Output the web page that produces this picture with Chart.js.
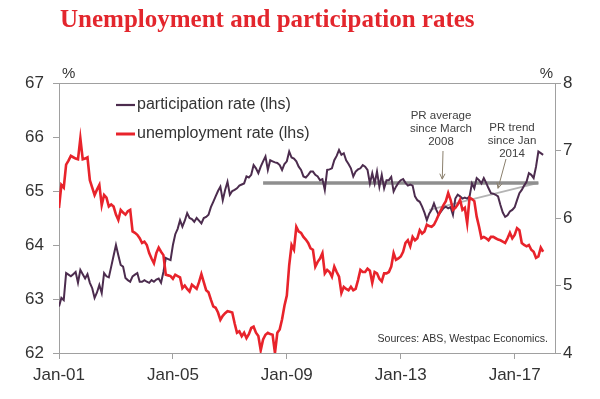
<!DOCTYPE html>
<html>
<head>
<meta charset="utf-8">
<title>Unemployment and participation rates</title>
<script src="https://cdn.jsdelivr.net/npm/chart.js@4/dist/chart.umd.min.js"></script>
<style>
  html, body { margin: 0; padding: 0; background: #fff; }
  #wrap { position: relative; width: 600px; height: 399px; }
</style>
</head>
<body>
<div id="wrap">
  <canvas id="ratesChart" width="600" height="399"></canvas>
</div>
<script>
// Monthly data, Jan 2001 .. Jan 2018 (index 0 = Jan 2001)
const participation = [
  62.86, 63.02, 62.98, 63.48, 63.45, 63.42, 63.46, 63.5, 63.3, 63.54,
  63.46, 63.38, 63.46, 63.3, 63.2, 63.02, 63.12, 63.26, 63.11, 63.48,
  63.42, 63.4, 63.6, 63.8, 64.0, 63.81, 63.63, 63.6, 63.39, 63.35,
  63.32, 63.42, 63.45, 63.48, 63.32, 63.32, 63.35, 63.32, 63.3, 63.35,
  63.32, 63.36, 63.38, 63.3, 63.5, 63.76, 63.74, 63.72, 64.0, 64.2,
  64.3, 64.46, 64.34, 64.45, 64.59, 64.5, 64.48, 64.43, 64.5, 64.45,
  64.4, 64.5, 64.52, 64.56, 64.7, 64.8, 64.9, 65.0, 65.08, 64.83,
  65.02, 65.17, 64.93, 65.0, 65.02, 65.05, 65.1, 65.12, 65.14, 65.27,
  65.25, 65.3, 65.48, 65.42, 65.33, 65.45, 65.55, 65.64, 65.39, 65.57,
  65.55, 65.53, 65.52, 65.48, 65.39, 65.5, 65.55, 65.73, 65.62, 65.6,
  65.55, 65.45, 65.39, 65.27, 65.25, 65.3, 65.36, 65.36, 65.3, 65.27,
  65.2, 65.22, 65.02, 65.39, 65.4, 65.42, 65.57, 65.65, 65.76, 65.67,
  65.7, 65.57, 65.5, 65.42, 65.27, 65.36, 65.4, 65.42, 65.48, 65.45,
  65.39, 65.14, 65.33, 65.14, 65.36, 65.08, 65.3, 65.05, 65.2, 65.2,
  65.26, 64.99, 65.08, 65.15, 65.2, 65.22, 65.15, 65.1, 65.12, 65.1,
  64.9, 64.83, 64.8, 64.71, 64.6, 64.46, 64.58, 64.65, 64.77, 64.65,
  64.56, 64.62, 64.68, 64.71, 64.68, 64.7, 64.56, 64.86, 64.93, 64.9,
  64.86, 64.88, 64.86, 64.9, 65.14, 65.05, 65.24, 65.2, 65.14, 65.24,
  65.15, 65.05, 64.96, 64.95, 64.93, 64.9, 64.74, 64.6, 64.52, 64.55,
  64.62, 64.65, 64.7, 64.83, 64.96, 65.02, 65.1, 65.17, 65.33, 65.3,
  65.24, 65.45, 65.73, 65.7, 65.67
];

const unemployment = [
  6.15, 6.49, 6.45, 6.79, 6.85, 6.92, 6.9, 6.88, 6.87, 7.18,
  6.87, 6.88, 6.9, 6.56, 6.45, 6.34, 6.42, 6.49, 6.19, 6.34,
  6.3, 6.17, 6.2, 6.17, 6.05, 5.97, 6.12, 6.08, 6.05, 6.1,
  6.12, 5.8, 5.78, 5.75, 5.7, 5.63, 5.65, 5.6, 5.48, 5.4,
  5.33, 5.48, 5.56, 5.5, 5.45, 5.16, 5.15, 5.14, 5.1, 5.16,
  5.14, 5.12, 4.96, 5.0, 4.95, 4.91, 5.01, 4.98, 4.95, 5.05,
  5.17, 5.05, 4.93, 4.9, 4.79, 4.69, 4.67, 4.6, 4.49, 4.55,
  4.59, 4.62, 4.61, 4.6, 4.44, 4.3, 4.32, 4.25, 4.3, 4.22,
  4.28, 4.37, 4.39, 4.3, 4.25, 4.04, 4.2, 4.27, 4.3, 4.28,
  4.27, 4.0, 4.3, 4.35, 4.5, 4.7, 4.85, 5.3, 5.6, 5.53,
  5.87, 5.8, 5.78, 5.72, 5.68, 5.63, 5.55, 5.53, 5.28, 5.35,
  5.4, 5.48, 5.18, 5.23, 5.2, 5.13, 5.28, 5.2, 5.13, 4.89,
  4.98, 4.95, 4.93, 4.98, 4.93, 4.95, 5.08, 5.23, 5.2, 5.2,
  5.25, 5.22, 5.04, 5.2, 5.18, 5.1, 5.06, 5.18, 5.18, 5.2,
  5.28, 5.48, 5.38, 5.4, 5.43, 5.5, 5.63, 5.67, 5.58, 5.72,
  5.67, 5.7, 5.82, 5.77, 5.8, 5.9, 5.88, 5.87, 5.9, 5.97,
  6.05, 6.12, 6.19, 6.25, 6.37, 6.27, 6.12, 6.15, 6.2, 6.27,
  6.12, 6.15, 5.92, 6.3, 6.28, 6.25, 6.02, 5.87, 5.7, 5.72,
  5.7, 5.67, 5.72, 5.72, 5.7, 5.68, 5.67, 5.65, 5.63, 5.7,
  5.78, 5.7, 5.75, 5.85, 5.82, 5.63, 5.6, 5.58, 5.6, 5.53,
  5.5, 5.41, 5.43, 5.56, 5.5
];

// PR average since March 2008 and PR trend since Jan 2014 (month index, value)
const prAverage = [[86, 65.15], [202, 65.15]];
const prTrend = [[156, 64.65], [202, 65.15]];

// Axis ticks
const xTickMonths = [0, 48, 96, 144, 192];
const xTickLabels = ['Jan-01', 'Jan-05', 'Jan-09', 'Jan-13', 'Jan-17'];
const xMax = 209;
const lhsRange = [62, 67];
const rhsRange = [4, 8];

const FONT = '"Liberation Sans", Arial, Helvetica, sans-serif';
const TEXT = '#333333';
const FRAME = '#a0a0a0';
const PURPLE = '#4c2c4e';
const RED = '#e8232b';

Chart.defaults.font.family = FONT;
Chart.defaults.color = TEXT;

const toPoints = arr => arr.map((v, i) => ({ x: i, y: v }));
const pairPoints = arr => arr.map(p => ({ x: p[0], y: p[1] }));

function drawArrow(ctx, x1, y1, x2, y2) {
    const ang = Math.atan2(y2 - y1, x2 - x1);
    ctx.beginPath();
    ctx.moveTo(x1, y1);
    ctx.lineTo(x2, y2);
    ctx.stroke();
    ctx.beginPath();
    ctx.moveTo(x2 - 6 * Math.cos(ang - 0.45), y2 - 6 * Math.sin(ang - 0.45));
    ctx.lineTo(x2, y2);
    ctx.lineTo(x2 - 6 * Math.cos(ang + 0.45), y2 - 6 * Math.sin(ang + 0.45));
    ctx.stroke();
}

// Title, legend, annotations, frame top
const overlay = {
    id: 'overlay',
    afterDraw(chart) {
        const { ctx, chartArea: a, scales } = chart;
        ctx.save();

        ctx.strokeStyle = FRAME;
        ctx.lineWidth = 1;
        ctx.beginPath();
        ctx.moveTo(a.left, a.top + 0.5);
        ctx.lineTo(a.right, a.top + 0.5);
        ctx.stroke();

        ctx.fillStyle = '#e3262d';
        ctx.font = 'bold 25px "Liberation Serif", "Times New Roman", serif';
        ctx.textAlign = 'left';
        ctx.textBaseline = 'alphabetic';
        ctx.fillText('Unemployment and participation rates', 60, 27);

        ctx.fillStyle = TEXT;
        ctx.font = '15px ' + FONT;
        ctx.textBaseline = 'middle';
        ctx.fillText('%', 62, 74);
        ctx.textAlign = 'right';
        ctx.fillText('%', 553, 74);

        // legend
        ctx.textAlign = 'left';
        ctx.font = '16px ' + FONT;
        [[PURPLE, 2.2, 'participation rate (lhs)', 105], [RED, 3, 'unemployment rate (lhs)', 134]].forEach(l => {
            ctx.strokeStyle = l[0];
            ctx.lineWidth = l[1];
            ctx.beginPath();
            ctx.moveTo(116, l[3]);
            ctx.lineTo(135, l[3]);
            ctx.stroke();
            ctx.fillText(l[2], 137, l[3]);
        });

        // annotations
        ctx.fillStyle = '#404040';
        ctx.font = '11.5px ' + FONT;
        ctx.textAlign = 'center';
        ['PR average', 'since March', '2008'].forEach((t, i) => ctx.fillText(t, 441, 116 + i * 13));
        ['PR trend', 'since Jan', '2014'].forEach((t, i) => ctx.fillText(t, 512, 128 + i * 13));

        const x = scales.x, y = scales.y;
        ctx.strokeStyle = '#8a7f6c';
        ctx.lineWidth = 1;
        drawArrow(ctx, 443, 151, x.getPixelForValue(161.5), y.getPixelForValue(65.22));
        drawArrow(ctx, 506, 159, x.getPixelForValue(185), y.getPixelForValue(65.05));

        ctx.fillStyle = TEXT;
        ctx.font = '10.6px ' + FONT;
        ctx.textAlign = 'right';
        ctx.textBaseline = 'alphabetic';
        ctx.fillText('Sources: ABS, Westpac Economics.', 548, 342);

        ctx.restore();
    }
};

const ctx = document.getElementById('ratesChart');
new Chart(ctx, {
    type: 'line',
    data: {
        datasets: [{
            label: 'unemployment rate (lhs)',
            data: toPoints(unemployment),
            yAxisID: 'y2',
            borderColor: RED,
            borderWidth: 2.6,
            pointRadius: 0,
            tension: 0,
            order: 0
        }, {
            label: 'participation rate (lhs)',
            data: toPoints(participation),
            yAxisID: 'y',
            borderColor: PURPLE,
            borderWidth: 2,
            pointRadius: 0,
            tension: 0,
            order: 1
        }, {
            label: 'PR average since March 2008',
            data: pairPoints(prAverage),
            yAxisID: 'y',
            borderColor: '#8f8f8f',
            borderWidth: 3.5,
            pointRadius: 0,
            order: 2
        }, {
            label: 'PR trend since Jan 2014',
            data: pairPoints(prTrend),
            yAxisID: 'y',
            borderColor: '#b4b4b4',
            borderWidth: 2,
            pointRadius: 0,
            order: 3
        }]
    },
    options: {
        responsive: false,
        animation: false,
        layout: { padding: { top: 83, left: 0, right: 0, bottom: 0 } },
        scales: {
            x: {
                type: 'linear',
                min: 0,
                max: xMax,
                afterBuildTicks: axis => { axis.ticks = xTickMonths.map(v => ({ value: v })); },
                afterFit: axis => { axis.height = 46; },
                ticks: {
                    font: { size: 17 },
                    color: TEXT,
                    padding: 6,
                    maxRotation: 0,
                    callback: value => xTickLabels[xTickMonths.indexOf(value)]
                },
                grid: { drawOnChartArea: false, drawTicks: true, tickLength: 6, color: FRAME },
                border: { display: true, color: FRAME }
            },
            y: {
                position: 'left',
                min: lhsRange[0],
                max: lhsRange[1],
                afterFit: axis => { axis.width = 59; },
                ticks: { stepSize: 1, font: { size: 17 }, color: TEXT, padding: 9 },
                grid: { drawOnChartArea: false, drawTicks: true, tickLength: 6, color: FRAME },
                border: { display: true, color: FRAME }
            },
            y2: {
                position: 'right',
                min: rhsRange[0],
                max: rhsRange[1],
                afterFit: axis => { axis.width = 45; },
                ticks: { stepSize: 1, font: { size: 17 }, color: TEXT, padding: 2 },
                grid: { drawOnChartArea: false, drawTicks: true, tickLength: 6, color: FRAME },
                border: { display: true, color: FRAME }
            }
        },
        plugins: {
            legend: { display: false },
            title: { display: false },
            tooltip: { enabled: false }
        }
    },
    plugins: [overlay]
});
</script>
</body>
</html>
